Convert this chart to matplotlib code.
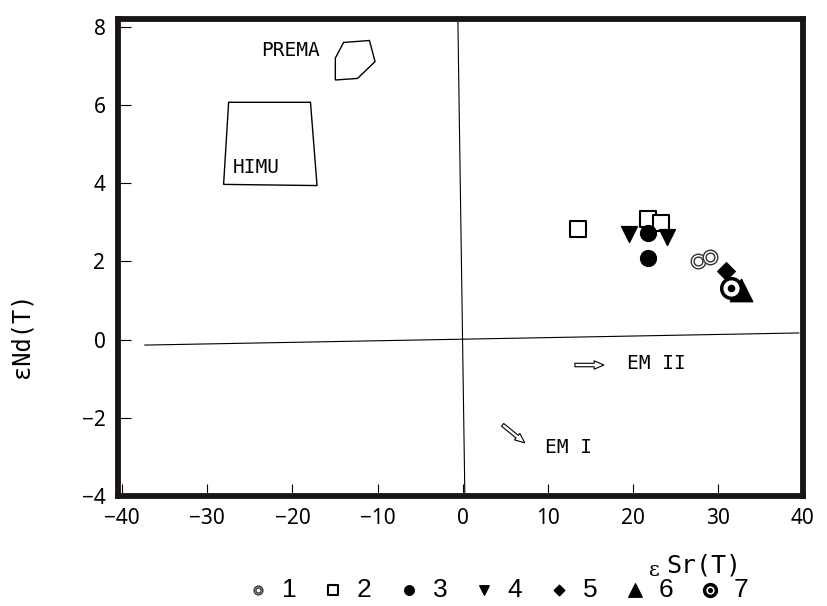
import matplotlib
matplotlib.use("Agg")
import matplotlib.pyplot as plt
from matplotlib.patches import Polygon

# ---------------- data ----------------
s1_x = [27.7, 29.1]
s1_y = [2.01, 2.11]
s2_x = [13.54, 21.75, 23.27]
s2_y = [2.82, 3.08, 2.98]
s3_x = [21.75, 21.75]
s3_y = [2.73, 2.09]
s4_x = [19.53, 23.97]
s4_y = [2.70, 2.62]
s5_x = [30.97]
s5_y = [1.75]
s6_x = [32.73]
s6_y = [1.27]
s7_x = [31.56]
s7_y = [1.32]

himu_x = [-27.5, -17.88, -17.11, -28.09]
himu_y = [6.07, 6.07, 3.94, 3.97]
prema_x = [-13.99, -10.95, -10.29, -12.35, -14.96, -14.96]
prema_y = [7.60, 7.65, 7.11, 6.68, 6.64, 7.20]

hline_x = [-37.35, 39.5]
hline_y = [-0.14, 0.17]
vline_x = [-0.56, 0.26]
vline_y = [8.2, -3.97]

em2_arrow = [(13.2, -0.65), (16.6, -0.65)]
em1_arrow = [(4.7, -2.18), (7.3, -2.64)]

x_ticks = [-40, -30, -20, -10, 0, 10, 20, 30, 40]
y_ticks = [-4, -2, 0, 2, 4, 6, 8]
legend_labels = ["1", "2", "3", "4", "5", "6", "7"]

# ---------------- figure ----------------
fig = plt.figure(figsize=(8.28, 6.06), dpi=100)
ax = fig.add_axes([118/828, 110/606, 685/828, 477/606])
ax.set_xlim(-40.5, 39.5)
ax.set_ylim(-4.0, 8.2)

for sp in ax.spines.values():
    sp.set_linewidth(4.2)
    sp.set_color("#1a1414")

ax.set_xticks(x_ticks)
ax.set_yticks(y_ticks)
ax.tick_params(direction="in", length=9, width=0.8, pad=9,
               labelsize=15)
for lab in ax.get_xticklabels() + ax.get_yticklabels():
    lab.set_fontfamily("Noto Sans")

# reference lines
ax.plot(hline_x, hline_y, color="black", lw=0.8)
ax.plot(vline_x, vline_y, color="black", lw=0.8)

# fields
ax.add_patch(Polygon(list(zip(himu_x, himu_y)), closed=True, fill=False,
                     ec="black", lw=1.0))
ax.add_patch(Polygon(list(zip(prema_x, prema_y)), closed=True, fill=False,
                     ec="black", lw=1.0))
mono = "DejaVu Sans Mono"
fs_in = 14
ax.text(-27.07, 4.39, "HIMU", fontfamily=mono, fontsize=fs_in, va="center", ha="left")
ax.text(-23.72, 7.39, "PREMA", fontfamily=mono, fontsize=fs_in, va="center", ha="left")
ax.text(19.3, -0.60, "EM II", fontfamily=mono, fontsize=fs_in, va="center", ha="left")
ax.text(9.7, -2.77, "EM I", fontfamily=mono, fontsize=fs_in, va="center", ha="left")

arrowprops = dict(arrowstyle="simple,head_length=0.7,head_width=0.6,tail_width=0.25",
                  fc="white", ec="black", lw=0.8, shrinkA=0, shrinkB=0)
ax.annotate("", xy=em2_arrow[1], xytext=em2_arrow[0], arrowprops=arrowprops)
ax.annotate("", xy=em1_arrow[1], xytext=em1_arrow[0], arrowprops=arrowprops)

# data series
h1a = ax.scatter(s1_x, s1_y, s=110, marker="o", facecolor="white", edgecolor="#333", lw=1.0, zorder=3)
h1b = ax.scatter(s1_x, s1_y, s=40, marker="o", facecolor="white", edgecolor="#333", lw=1.0, zorder=4)
h2 = ax.scatter(s2_x, s2_y, s=120, marker="s", facecolor="white", edgecolor="black", lw=1.5, zorder=3)
h3 = ax.scatter(s3_x, s3_y, s=130, marker="o", color="black", zorder=3)
h4 = ax.scatter(s4_x, s4_y, s=130, marker="v", color="black", zorder=3)
h5 = ax.scatter(s5_x, s5_y, s=80, marker="D", color="black", zorder=3)
h6 = ax.scatter(s6_x, s6_y, s=260, marker="^", color="black", zorder=3)
h7a = ax.scatter(s7_x, s7_y, s=200, marker="o", facecolor="white", edgecolor="black", lw=2.5, zorder=4)
h7b = ax.scatter(s7_x, s7_y, s=20, marker="o", color="black", zorder=5)

# axis titles
fig.text(21/828, 1 - 335/606, "εNd(T)", rotation=90, fontfamily=mono,
         fontsize=17, ha="center", va="center")
fig.text(654/828, 1 - 571/606, "ε", fontfamily="DejaVu Serif",
         fontsize=15, ha="center", va="center")
fig.text(666/828, 1 - 566/606, "Sr(T)", fontfamily=mono,
         fontsize=18, ha="left", va="center")

# legend
handles = [(h1a, h1b), h2, h3, h4, h5, h6, (h7a, h7b)]
leg = fig.legend(handles, legend_labels, loc="center", ncol=7,
                 bbox_to_anchor=(498/828, 1 - 590/606), frameon=False,
                 markerscale=0.6, handlelength=0.8, handletextpad=0.5,
                 columnspacing=1.0, prop={"family": "Liberation Sans", "size": 19})

fig.savefig("out.png", dpi=100)
